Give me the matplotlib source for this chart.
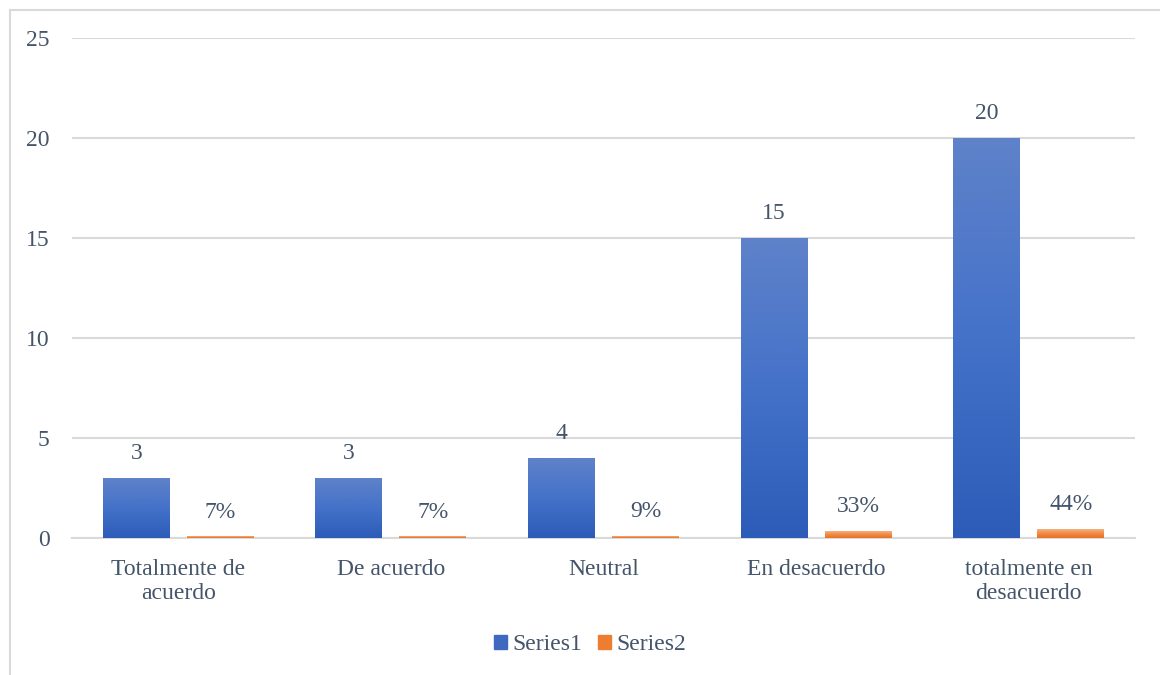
import numpy as np
import matplotlib.pyplot as plt
from matplotlib.patches import Rectangle, Patch
from matplotlib.colors import LinearSegmentedColormap

categorias = ["Totalmente de\nacuerdo", "De acuerdo", "Neutral", "En desacuerdo", "totalmente en\ndesacuerdo"]
series1 = [3, 3, 4, 15, 20]
series2 = [0.0667, 0.0667, 0.0889, 0.3333, 0.4444]
etiquetas2 = ["7%", "7%", "9%", "33%", "44%"]

plt.rcParams['font.family'] = ['Liberation Serif', 'DejaVu Serif']
txt = "#44546A"
grid = "#D9D9D9"
fs = 17

fig = plt.figure(figsize=(11.6, 6.75), dpi=100)
# chart frame
fig.patches.append(Rectangle((10 / 1160, -0.1), 1.2, 1 - 10 / 675 + 0.1, transform=fig.transFigure,
                             fill=False, edgecolor=grid, linewidth=1.5))
ax = fig.add_axes([72 / 1160, 1 - 538 / 675, (1135 - 72) / 1160, 500 / 675])

x = np.arange(len(categorias))
w = 0.315
gap = 0.08
off = (w + gap) / 2

b1 = ax.bar(x - off, series1, w, color="none", zorder=3)
b2 = ax.bar(x + off, series2, w, color="none", zorder=3)

blue = LinearSegmentedColormap.from_list("b", ["#2C5CB8", "#4472C9", "#5F82C9"])
orange = LinearSegmentedColormap.from_list("o", ["#E8711E", "#F08A44", "#F4B183"])
grad = np.linspace(0, 1, 256).reshape(-1, 1)
for bars, cm in [(b1, blue), (b2, orange)]:
    for b in bars:
        x0, y0 = b.get_x(), b.get_y()
        ax.imshow(grad, cmap=cm, origin="lower", aspect="auto", zorder=3,
                  extent=(x0, x0 + b.get_width(), y0, y0 + b.get_height()))

for xi, v in zip(x - off, series1):
    ax.text(xi, v + 0.7, str(v), ha="center", va="bottom", fontsize=fs, color=txt)
for xi, v, s in zip(x + off, series2, etiquetas2):
    ax.text(xi, v + 0.7, s, ha="center", va="bottom", fontsize=fs, color=txt)

ax.set_xlim(-0.5, len(categorias) - 0.5)
ax.set_ylim(0, 25)
ax.set_yticks([0, 5, 10, 15, 20, 25])
ax.yaxis.grid(True, color=grid, linewidth=1.5, zorder=0)
ax.set_axisbelow(True)
for s in ["top", "right", "left"]:
    ax.spines[s].set_visible(False)
ax.spines["bottom"].set_color(grid)
ax.spines["bottom"].set_linewidth(1.5)
ax.set_xticks(x)
ax.set_xticklabels(categorias, fontsize=fs, color=txt, linespacing=1.2)
ax.tick_params(axis="both", length=0, labelsize=fs, colors=txt)
ax.tick_params(axis="x", pad=15)
ax.tick_params(axis="y", pad=16)

handles = [Patch(color="#3F68C0"), Patch(color="#ED7D31")]
fig.legend(handles, ["Series1", "Series2"], loc="center", bbox_to_anchor=(590 / 1160, 1 - 645 / 675),
           ncol=2, frameon=False, fontsize=fs, labelcolor=txt, handlelength=0.55, handleheight=0.55,
           handletextpad=0.2, columnspacing=0.7)

fig.savefig("out.png", dpi=100)
